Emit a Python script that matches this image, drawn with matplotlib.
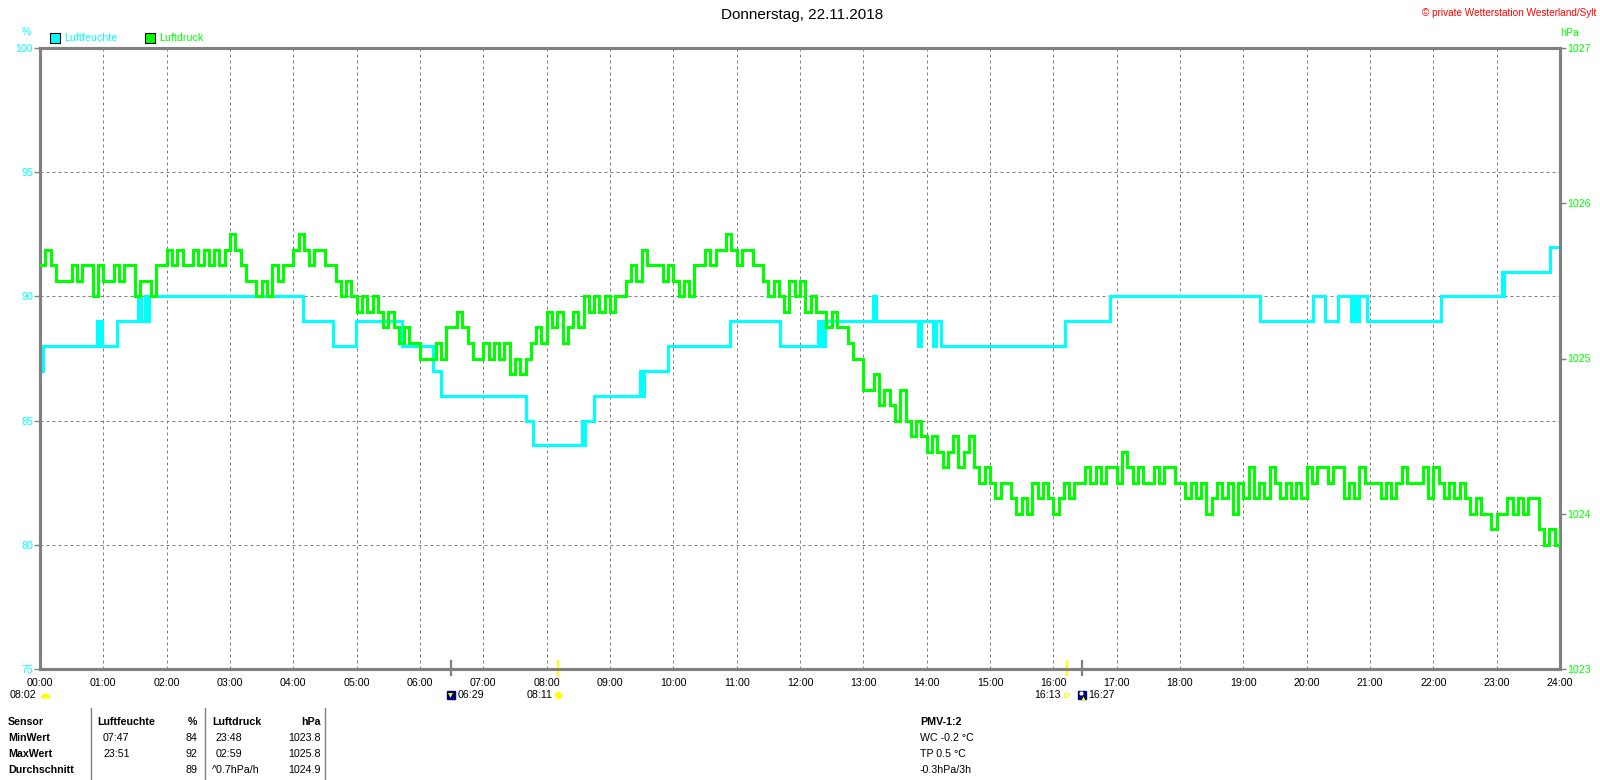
import numpy as np
import matplotlib
matplotlib.use('Agg')
import matplotlib.pyplot as plt
from matplotlib.patches import Rectangle
from matplotlib.lines import Line2D
from matplotlib.markers import MarkerStyle
from matplotlib import transforms

plt.rcParams['font.family'] = ['Liberation Sans', 'DejaVu Sans']

# ---------------- data ----------------
title = "Donnerstag, 22.11.2018"
copyright_text = "\u00a9 private Wetterstation Westerland/Sylt"
hour_labels = [f"{h:02d}:00" for h in range(25)]
hum_ticks = [75, 80, 85, 90, 95, 100]
press_ticks = [1023, 1024, 1025, 1026, 1027]

# Luftfeuchte (%) - step change points (hour, value)
hum_t = [0.00, 0.02, 0.05, 0.90, 0.93, 0.95, 0.98, 1.22, 1.55, 1.60, 1.65, 1.68, 1.72,
         4.15, 4.63, 4.99, 5.72, 6.20, 6.33, 7.68, 7.79, 8.55, 8.58, 8.60, 8.75,
         9.47, 9.50, 9.53, 9.91, 10.90, 11.68, 12.29, 12.32, 12.35, 12.37, 12.40,
         13.15, 13.20, 13.87, 13.91, 14.10, 14.14, 14.23, 16.18, 16.90, 19.26,
         20.10, 20.29, 20.50, 20.70, 20.74, 20.78, 20.82, 20.95, 22.12, 23.08,
         23.10, 23.12, 23.84, 24.00]
hum_v = [88, 87, 88, 89, 88, 89, 88, 89, 90, 89, 90, 89, 90,
         89, 88, 89, 88, 87, 86, 85, 84, 85, 84, 85, 86,
         87, 86, 87, 88, 89, 88, 89, 88, 89, 88, 89,
         90, 89, 88, 89, 88, 89, 88, 89, 90, 89,
         90, 89, 90, 89, 90, 89, 90, 89, 90, 91,
         90, 91, 92, 92]

# Luftdruck (hPa) - 5-minute readings, one list per hour
p00 = [1025.6, 1025.7, 1025.6, 1025.5, 1025.5, 1025.5, 1025.6, 1025.5, 1025.6, 1025.6, 1025.4, 1025.6]
p01 = [1025.5, 1025.5, 1025.6, 1025.5, 1025.6, 1025.6, 1025.4, 1025.5, 1025.5, 1025.4, 1025.6, 1025.6]
p02 = [1025.7, 1025.6, 1025.7, 1025.6, 1025.6, 1025.7, 1025.6, 1025.7, 1025.6, 1025.7, 1025.6, 1025.7]
p03 = [1025.8, 1025.7, 1025.6, 1025.5, 1025.5, 1025.4, 1025.5, 1025.4, 1025.6, 1025.5, 1025.6, 1025.6]
p04 = [1025.7, 1025.8, 1025.7, 1025.6, 1025.7, 1025.7, 1025.6, 1025.6, 1025.5, 1025.4, 1025.5, 1025.4]
p05 = [1025.3, 1025.4, 1025.3, 1025.4, 1025.3, 1025.2, 1025.3, 1025.2, 1025.1, 1025.2, 1025.1, 1025.1]
p06 = [1025.0, 1025.0, 1025.0, 1025.1, 1025.0, 1025.2, 1025.2, 1025.3, 1025.2, 1025.1, 1025.0, 1025.0]
p07 = [1025.1, 1025.0, 1025.1, 1025.0, 1025.1, 1024.9, 1025.0, 1024.9, 1025.0, 1025.1, 1025.2, 1025.1]
p08 = [1025.3, 1025.2, 1025.3, 1025.1, 1025.2, 1025.3, 1025.2, 1025.4, 1025.3, 1025.4, 1025.3, 1025.4]
p09 = [1025.3, 1025.4, 1025.4, 1025.5, 1025.6, 1025.5, 1025.7, 1025.6, 1025.6, 1025.6, 1025.5, 1025.6]
p10 = [1025.5, 1025.4, 1025.5, 1025.4, 1025.6, 1025.6, 1025.7, 1025.6, 1025.7, 1025.7, 1025.8, 1025.7]
p11 = [1025.6, 1025.7, 1025.7, 1025.6, 1025.6, 1025.5, 1025.4, 1025.5, 1025.4, 1025.3, 1025.5, 1025.4]
p12 = [1025.5, 1025.3, 1025.4, 1025.3, 1025.3, 1025.2, 1025.3, 1025.2, 1025.2, 1025.1, 1025.0, 1025.0]
p13 = [1024.8, 1024.8, 1024.9, 1024.7, 1024.8, 1024.7, 1024.6, 1024.8, 1024.6, 1024.5, 1024.6, 1024.5]
p14 = [1024.4, 1024.5, 1024.4, 1024.3, 1024.4, 1024.5, 1024.3, 1024.4, 1024.5, 1024.3, 1024.2, 1024.3]
p15 = [1024.2, 1024.1, 1024.2, 1024.2, 1024.1, 1024.0, 1024.1, 1024.0, 1024.2, 1024.1, 1024.2, 1024.1]
p16 = [1024.0, 1024.1, 1024.2, 1024.1, 1024.2, 1024.2, 1024.3, 1024.2, 1024.3, 1024.2, 1024.3, 1024.3]
p17 = [1024.2, 1024.4, 1024.3, 1024.2, 1024.3, 1024.2, 1024.2, 1024.3, 1024.2, 1024.3, 1024.3, 1024.2]
p18 = [1024.2, 1024.1, 1024.2, 1024.1, 1024.2, 1024.0, 1024.1, 1024.2, 1024.1, 1024.2, 1024.0, 1024.2]
p19 = [1024.1, 1024.3, 1024.1, 1024.2, 1024.1, 1024.3, 1024.2, 1024.1, 1024.2, 1024.1, 1024.2, 1024.1]
p20 = [1024.3, 1024.2, 1024.3, 1024.3, 1024.2, 1024.3, 1024.3, 1024.1, 1024.2, 1024.1, 1024.3, 1024.2]
p21 = [1024.2, 1024.2, 1024.1, 1024.2, 1024.1, 1024.2, 1024.3, 1024.2, 1024.2, 1024.2, 1024.3, 1024.1]
p22 = [1024.3, 1024.2, 1024.1, 1024.2, 1024.1, 1024.2, 1024.1, 1024.0, 1024.1, 1024.0, 1024.0, 1023.9]
p23 = [1024.0, 1024.0, 1024.1, 1024.0, 1024.1, 1024.0, 1024.1, 1024.1, 1023.9, 1023.8, 1023.9, 1023.8]
p_end = 1023.9

# table
table_header = ["Sensor", "Luftfeuchte", "%", "Luftdruck", "hPa"]
row_names = ["MinWert", "MaxWert", "Durchschnitt"]
hum_time = ["07:47", "23:51", ""]
hum_val = ["84", "92", "89"]
press_time = ["23:48", "02:59", "^0.7hPa/h"]
press_val = ["1023.8", "1025.8", "1024.9"]
pmv_lines = ["PMV-1:2", "WC -0.2 \u00b0C", "TP 0.5 \u00b0C", "-0.3hPa/3h"]

# astronomical events
sunrise_label = "08:02"
event_hours = [6 + 29/60, 8 + 11/60, 16 + 13/60, 16 + 27/60]
event_labels = ["06:29", "08:11", "16:13", "16:27"]

# ---------------- figure ----------------
W, H = 1600, 780
fig = plt.figure(figsize=(16, 7.8), dpi=100)
fig.patch.set_facecolor('white')

def fx(px):
    return px / W

def fy(py):
    return 1 - py / H

CYAN = '#00FFFF'
GREEN = '#00FF00'
GRAY = '#808080'
FS = 7.7

ax = fig.add_axes([fx(40), fy(669), 1520 / W, 621 / H])
ax2 = ax.twinx()

ax.set_xlim(0, 24)
ax.set_ylim(75, 100)
ax2.set_ylim(1023, 1027)

# humidity
ax.plot(hum_t, hum_v, drawstyle='steps-post', color=CYAN, lw=2.2,
        solid_joinstyle='miter', zorder=3)

# pressure
press = p00 + p01 + p02 + p03 + p04 + p05 + p06 + p07 + p08 + p09 + p10 + p11 + \
    p12 + p13 + p14 + p15 + p16 + p17 + p18 + p19 + p20 + p21 + p22 + p23 + [p_end]
pt = np.arange(len(press)) / 12.0
ax2.plot(pt, press, drawstyle='steps-post', color=GREEN, lw=2.2,
         solid_joinstyle='miter', zorder=3)

# grid
ax.set_xticks(range(25))
ax.set_xticklabels(hour_labels)
ax.set_yticks(hum_ticks)
ax.grid(True, color=GRAY, linestyle=(0, (3, 3)), linewidth=0.72)
ax.set_axisbelow(True)

for a in (ax, ax2):
    for s in a.spines.values():
        s.set_color(GRAY)
        s.set_linewidth(2.2)

ax.tick_params(axis='x', length=0, pad=6.5, labelsize=FS, colors='black')
ax.tick_params(axis='y', length=4, width=1, color=GRAY, labelcolor=CYAN,
               pad=1, labelsize=FS)
ax2.set_yticks(press_ticks)
ax2.set_yticklabels([str(v) for v in press_ticks])
ax2.tick_params(axis='y', length=4, width=1, color=GRAY, labelcolor=GREEN,
                pad=1, labelsize=FS)

# ---------------- top texts ----------------
fig.text(fx(802), fy(15.3), title, ha='center', va='center', fontsize=11, color='black')
fig.text(fx(1596), fy(12.5), copyright_text, ha='right', va='center',
         fontsize=7.2, color='#FF0000')
fig.text(fx(26.5), fy(32), '%', ha='center', va='center', fontsize=FS, color=CYAN)
fig.text(fx(1570), fy(33), 'hPa', ha='center', va='center', fontsize=FS, color=GREEN)

fig.patches.append(Rectangle((fx(50), fy(43)), 10 / W, 10 / H, transform=fig.transFigure,
                             facecolor=CYAN, edgecolor='black', lw=0.8))
fig.text(fx(64), fy(38), 'Luftfeuchte', ha='left', va='center', fontsize=FS, color=CYAN)
fig.patches.append(Rectangle((fx(145), fy(43)), 10 / W, 10 / H, transform=fig.transFigure,
                             facecolor=GREEN, edgecolor='black', lw=0.8))
fig.text(fx(159), fy(38), 'Luftdruck', ha='left', va='center', fontsize=FS, color=GREEN)

# ---------------- events below axis ----------------
blend = transforms.blended_transform_factory(ax.transData, ax.transAxes)

def off(dx_px):
    return blend + transforms.ScaledTranslation(dx_px / 100.0, 0, fig.dpi_scale_trans)

yrow = -0.0420
tick_colors = [GRAY, '#FFFF00', '#FFFF00', GRAY]
for h, c in zip(event_hours, tick_colors):
    ax.plot([h, h], [-0.0097, 0.0129], transform=blend, color=c, lw=1.6,
            clip_on=False, zorder=5)

# sunrise label at start
ax.text(0, yrow, sunrise_label, transform=off(-4), ha='right', va='center', fontsize=FS)
ax.plot([0], [yrow - 0.004], transform=off(4.5), marker=MarkerStyle('o', fillstyle='top'),
        ms=7, mfc='#FFFF00', mec='none', mfcalt='none', clip_on=False, ls='none')

# moonset 06:29
h = event_hours[0]
ax.plot([h], [yrow], transform=off(0), marker='s', ms=6, mfc='#000080', mec='#000080',
        clip_on=False, ls='none')
ax.plot([h], [yrow], transform=off(-1), marker='v', ms=3.5, mfc='#FFFF00', mec='none',
        clip_on=False, ls='none')
ax.text(h, yrow, event_labels[0], transform=off(7), ha='left', va='center', fontsize=FS)

# sun 08:11
h = event_hours[1]
ax.plot([h], [yrow], transform=off(0), marker='*', ms=9, mfc='#FFFF99', mec='none',
        clip_on=False, ls='none')
ax.plot([h], [yrow], transform=off(0), marker='o', ms=5, mfc='#FFFF00', mec='none',
        clip_on=False, ls='none')
ax.text(h, yrow, event_labels[1], transform=off(-6), ha='right', va='center', fontsize=FS)

# sunset 16:13
h = event_hours[2]
ax.plot([h], [yrow], transform=off(-1), marker='s', ms=3.5, mfc='none', mec='#FFFF00',
        mew=0.8, clip_on=False, ls='none')
ax.text(h, yrow, event_labels[2], transform=off(-6), ha='right', va='center', fontsize=FS)

# moonrise 16:27
h = event_hours[3]
ax.plot([h], [yrow], transform=off(0), marker='s', ms=6, mfc='#000080', mec='#000080',
        clip_on=False, ls='none')
ax.plot([h], [yrow + 0.004], transform=off(-1), marker='o', ms=3, mfc='white', mec='none',
        clip_on=False, ls='none')
ax.plot([h], [yrow - 0.004], transform=off(1), marker='^', ms=3, mfc='#FFFF00', mec='none',
        clip_on=False, ls='none')
ax.text(h, yrow, event_labels[3], transform=off(6), ha='left', va='center', fontsize=FS)

# ---------------- table ----------------
for xs in (91, 205, 325):
    fig.add_artist(Line2D([fx(xs), fx(xs)], [fy(708), fy(780)], transform=fig.transFigure,
                          color=GRAY, lw=1))

row_y = [722, 738, 754, 770]
fig.text(fx(8), fy(row_y[0]), table_header[0], ha='left', va='center', fontsize=FS, fontweight='bold')
fig.text(fx(97), fy(row_y[0]), table_header[1], ha='left', va='center', fontsize=FS, fontweight='bold')
fig.text(fx(197), fy(row_y[0]), table_header[2], ha='right', va='center', fontsize=FS, fontweight='bold')
fig.text(fx(212), fy(row_y[0]), table_header[3], ha='left', va='center', fontsize=FS, fontweight='bold')
fig.text(fx(321), fy(row_y[0]), table_header[4], ha='right', va='center', fontsize=FS, fontweight='bold')

for i, name in enumerate(row_names):
    yy = fy(row_y[i + 1])
    fig.text(fx(8), yy, name, ha='left', va='center', fontsize=FS, fontweight='bold')
    fig.text(fx(103), yy, hum_time[i], ha='left', va='center', fontsize=FS)
    fig.text(fx(197), yy, hum_val[i], ha='right', va='center', fontsize=FS)
    px = 212 if press_time[i].startswith('^') else 216
    fig.text(fx(px), yy, press_time[i], ha='left', va='center', fontsize=FS)
    fig.text(fx(321), yy, press_val[i], ha='right', va='center', fontsize=FS)

for i, line in enumerate(pmv_lines):
    fig.text(fx(920), fy(row_y[i]), line, ha='left', va='center', fontsize=FS,
             fontweight='bold' if i == 0 else 'normal')

fig.savefig('out.png', dpi=100, facecolor='white')
